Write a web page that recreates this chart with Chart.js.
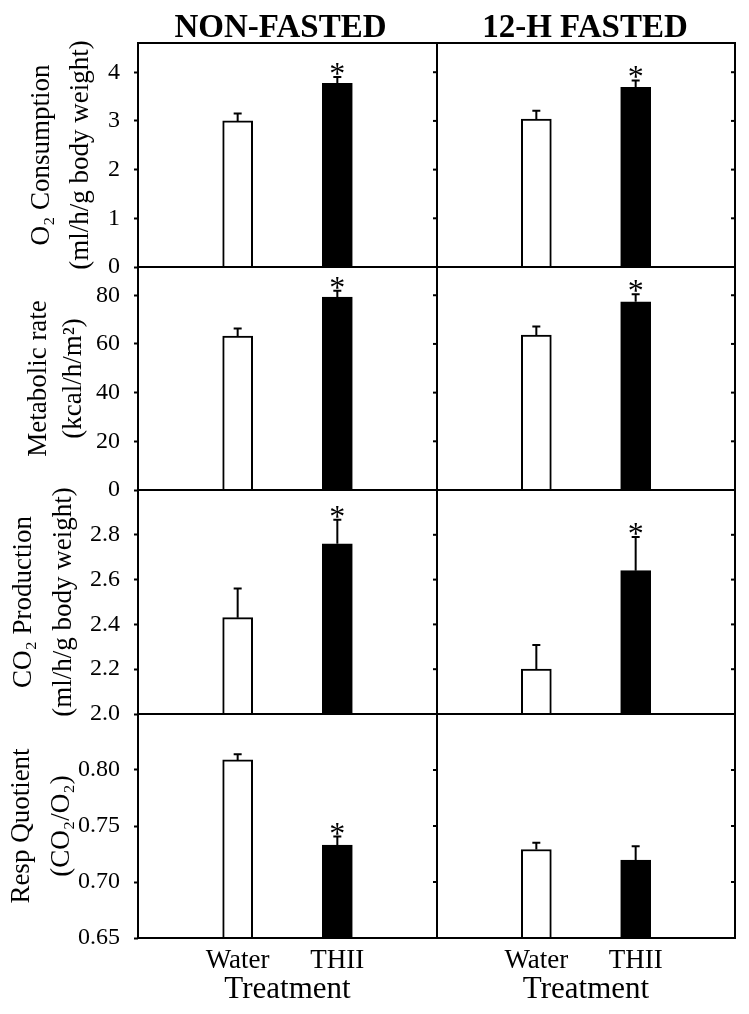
<!DOCTYPE html>
<html lang="en">
<head>
<meta charset="UTF-8">
<title>Metabolic measurements: Water vs THII</title>
<style>
    html, body {
        margin: 0;
        padding: 0;
        background: #ffffff;
    }
    #fig {
        position: relative;
        width: 749px;
        height: 1014px;
        overflow: hidden;
    }
    .panel {
        position: absolute;
    }
</style>
</head>
<body>
<div id="fig"></div>
<script src="https://cdn.jsdelivr.net/npm/chart.js"></script>
<script>
    // ---- data ----
    const categories = ['Water', 'THII'];
    const columnTitles = ['NON-FASTED', '12-H FASTED'];
    const xTitle = 'Treatment';

    // O2 consumption (ml/h/g body weight)
    const o2NonFasted = [3.00, 3.77];
    const o2NonFastedErr = [0.15, 0.13];
    const o2Fasted = [3.04, 3.69];
    const o2FastedErr = [0.17, 0.14];
    const o2Ticks = [0, 1, 2, 3, 4];
    const o2TickLabels = ['0', '1', '2', '3', '4'];

    // Metabolic rate (kcal/h/m2)
    const mrNonFasted = [63.2, 79.2];
    const mrNonFastedErr = [3.1, 2.6];
    const mrFasted = [63.6, 77.3];
    const mrFastedErr = [3.6, 3.1];
    const mrTicks = [0, 20, 40, 60, 80];
    const mrTickLabels = ['0', '20', '40', '60', '80'];

    // CO2 production (ml/h/g body weight)
    const co2NonFasted = [2.43, 2.76];
    const co2NonFastedErr = [0.13, 0.107];
    const co2Fasted = [2.20, 2.64];
    const co2FastedErr = [0.108, 0.15];
    const co2Ticks = [2.0, 2.2, 2.4, 2.6, 2.8];
    const co2TickLabels = ['2.0', '2.2', '2.4', '2.6', '2.8'];

    // Respiratory quotient (CO2/O2)
    const rqNonFasted = [0.809, 0.733];
    const rqNonFastedErr = [0.005, 0.0076];
    const rqFasted = [0.729, 0.7195];
    const rqFastedErr = [0.006, 0.0125];
    const rqTicks = [0.65, 0.70, 0.75, 0.80];
    const rqTickLabels = ['0.65', '0.70', '0.75', '0.80'];

    // significance marks (*)
    const o2Signif = [[false, true], [false, true]];
    const mrSignif = [[false, true], [false, true]];
    const co2Signif = [[false, true], [false, true]];
    const rqSignif = [[false, true], [false, false]];

    // ---- layout ----
    const SERIF = "'Liberation Serif', 'Times New Roman', serif";
    Chart.defaults.font.family = SERIF;
    Chart.defaults.color = '#000';

    const panelTop = [43, 267, 490, 714];
    const figHeight = 1014;
    const overlap = 32; // canvases overlap so tick labels at panel edges fit
    const columns = [
        { left: 0, width: 449, padLeft: 0, padRight: 12, titleDx: -7 },
        { left: 425, width: 324, padLeft: 12, padRight: 14, titleDx: -1 }
    ];

    const rows = [
        { title: ['O\u2082 Consumption', '(ml/h/g body weight)'], lh: 39, tpad: 22.5,
          min: 0, max: 4.6, ticks: o2Ticks, labels: o2TickLabels,
          means: [o2NonFasted, o2Fasted], errs: [o2NonFastedErr, o2FastedErr], signif: o2Signif },
        { title: ['Metabolic rate', '(kcal/h/m\u00B2)'], lh: 35, tpad: 21.5,
          min: 0, max: 91.6, ticks: mrTicks, labels: mrTickLabels,
          means: [mrNonFasted, mrFasted], errs: [mrNonFastedErr, mrFastedErr], signif: mrSignif },
        { title: ['CO\u2082 Production', '(ml/h/g body weight)'], lh: 40, tpad: 4,
          min: 2.0, max: 3.0, ticks: co2Ticks, labels: co2TickLabels,
          means: [co2NonFasted, co2Fasted], errs: [co2NonFastedErr, co2FastedErr], signif: co2Signif },
        { title: ['Resp Quotient', '(CO\u2082/O\u2082)'], lh: 40, tpad: 2,
          min: 0.65, max: 0.85, ticks: rqTicks, labels: rqTickLabels,
          means: [rqNonFasted, rqFasted], errs: [rqNonFastedErr, rqFastedErr], signif: rqSignif }
    ];

    // frame, inner right ticks, error bars, asterisks and column titles
    const panelDecor = {
        id: 'panelDecor',
        afterDatasetsDraw(chart, args, opts) {
            const ctx = chart.ctx;
            const a = chart.chartArea;
            const y = chart.scales.y;
            const meta = chart.getDatasetMeta(0);
            ctx.save();
            ctx.strokeStyle = '#000';
            ctx.fillStyle = '#000';
            ctx.lineWidth = 2;

            opts.means.forEach((m, i) => {
                const bar = meta.data[i + 1];
                const top = y.getPixelForValue(m + opts.errs[i]);
                ctx.beginPath();
                ctx.moveTo(bar.x, bar.y);
                ctx.lineTo(bar.x, top);
                ctx.moveTo(bar.x - 4, top);
                ctx.lineTo(bar.x + 4, top);
                ctx.stroke();
                if (opts.signif[i]) {
                    ctx.font = '32px ' + SERIF;
                    ctx.textAlign = 'center';
                    ctx.textBaseline = 'alphabetic';
                    ctx.fillText('*', bar.x, top + 7);
                }
            });

            ctx.strokeRect(a.left, a.top, a.right - a.left, a.bottom - a.top);

            opts.ticks.forEach(v => {
                const py = y.getPixelForValue(v);
                ctx.beginPath();
                ctx.moveTo(a.right - 4, py);
                ctx.lineTo(a.right, py);
                ctx.stroke();
            });

            if (opts.colTitle) {
                ctx.font = 'bold 33px ' + SERIF;
                ctx.textAlign = 'center';
                ctx.textBaseline = 'alphabetic';
                ctx.fillText(opts.colTitle, (a.left + a.right) / 2 + opts.titleDx, 37 - opts.canvasTop);
            }
            ctx.restore();
        }
    };

    const fig = document.getElementById('fig');

    function makePanel(r, c) {
        const row = rows[r];
        const col = columns[c];
        const isLeft = c === 0;
        const isTop = r === 0;
        const isBottom = r === rows.length - 1;

        const top = isTop ? 0 : panelTop[r] - overlap;
        const bottom = isBottom ? figHeight : panelTop[r + 1] + overlap;
        const padTop = panelTop[r] - top;
        const padBottom = isBottom ? 0 : overlap;

        const div = document.createElement('div');
        div.className = 'panel';
        div.style.left = col.left + 'px';
        div.style.top = top + 'px';
        div.style.width = col.width + 'px';
        div.style.height = (bottom - top) + 'px';
        const canvas = document.createElement('canvas');
        div.appendChild(canvas);
        fig.appendChild(div);

        const means = row.means[c];
        const colors = categories.map((cat, i) => i === 0 ? '#ffffff' : '#000000');

        new Chart(canvas, {
            type: 'bar',
            data: {
                labels: ['', ...categories, ''],
                datasets: [{
                    data: [null, ...means, null],
                    backgroundColor: ['#ffffff', ...colors, '#ffffff'],
                    borderColor: '#000',
                    borderWidth: 2,
                    barThickness: 30
                }]
            },
            options: {
                responsive: true,
                maintainAspectRatio: false,
                animation: false,
                events: [],
                layout: {
                    padding: { left: col.padLeft, right: col.padRight, top: padTop, bottom: padBottom }
                },
                plugins: {
                    legend: { display: false },
                    tooltip: { enabled: false },
                    panelDecor: {
                        means: means,
                        errs: row.errs[c],
                        signif: row.signif[c],
                        ticks: row.ticks,
                        colTitle: isTop ? columnTitles[c] : null,
                        titleDx: col.titleDx,
                        canvasTop: top
                    }
                },
                scales: {
                    x: {
                        type: 'category',
                        offset: false,
                        display: isBottom,
                        grid: { display: false },
                        border: { display: false },
                        ticks: {
                            autoSkip: false,
                            maxRotation: 0,
                            padding: 1,
                            color: '#000',
                            font: { size: 27, lineHeight: 1 }
                        },
                        title: {
                            display: true,
                            text: xTitle,
                            color: '#000',
                            font: { size: 31 },
                            padding: { top: 0, bottom: 6 }
                        },
                        afterFit: s => { if (isBottom) s.height = 76; }
                    },
                    y: {
                        min: row.min,
                        max: row.max,
                        display: isLeft,
                        afterBuildTicks: s => { s.ticks = row.ticks.map(v => ({ value: v })); },
                        ticks: {
                            callback: (v, i) => row.labels[i],
                            color: '#000',
                            padding: 14,
                            font: { size: 24 }
                        },
                        grid: {
                            drawOnChartArea: false,
                            drawTicks: true,
                            tickLength: 4,
                            tickWidth: 2,
                            tickColor: '#000'
                        },
                        border: { display: false },
                        title: {
                            display: true,
                            text: row.title,
                            color: '#000',
                            font: { size: 27, lineHeight: row.lh / 27 },
                            padding: { top: row.tpad, bottom: 0 }
                        },
                        afterFit: s => { if (isLeft) s.width = 138; }
                    }
                }
            },
            plugins: [panelDecor]
        });
    }

    for (let r = 0; r < rows.length; r++) {
        for (let c = 0; c < columns.length; c++) {
            makePanel(r, c);
        }
    }
</script>
</body>
</html>
